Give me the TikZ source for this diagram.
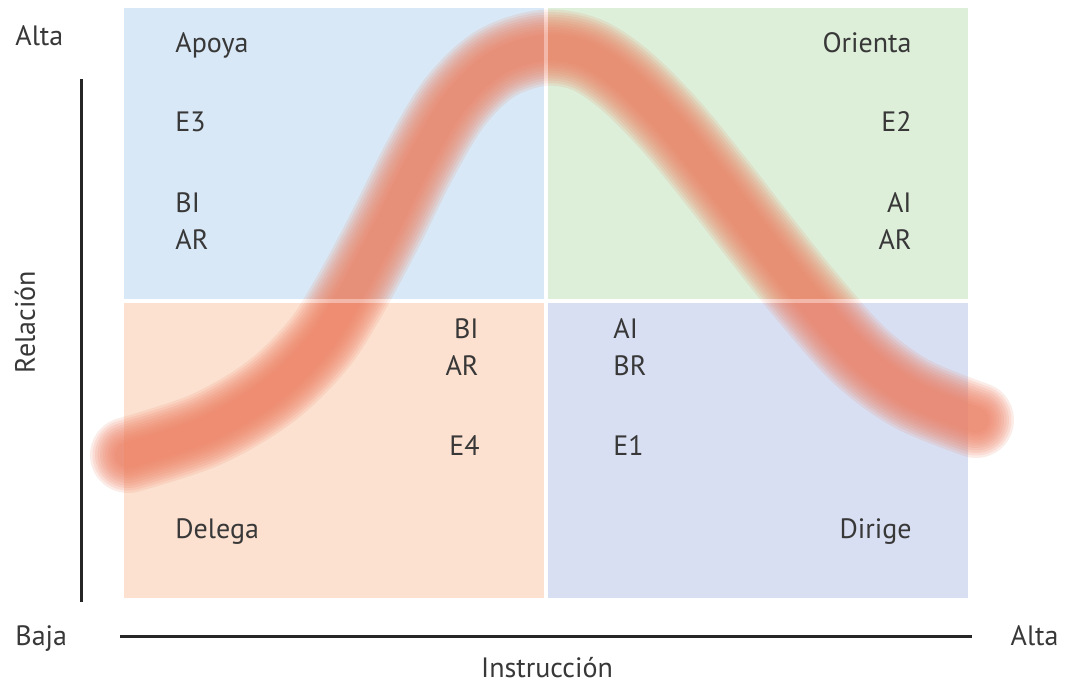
\documentclass[tikz,border=0pt]{standalone}
\usepackage{fontspec}
\setmainfont{PT Sans}
\begin{document}
\begin{tikzpicture}[x=0.5pt,y=-0.5pt,
  txt/.style={font=\fontsize{14pt}{16pt}\selectfont, text=black!78, inner sep=0pt},
  axisline/.style={line width=1.5pt, black!85},
  quad/.style={draw=none}]
\definecolor{qblue}{RGB}{217,232,246}
\definecolor{qgreen}{RGB}{221,238,217}
\definecolor{qpeach}{RGB}{252,224,208}
\definecolor{qlav}{RGB}{217,223,242}
\definecolor{curvecol}{RGB}{238,126,96}
\useasboundingbox (0,0) rectangle (1067,685);
\fill[white] (0,0) rectangle (1067,685);
% quadrants
\fill[qblue]  (124,8)   rectangle (544,299);
\fill[qgreen] (548,8)   rectangle (968,299);
\fill[qpeach] (124,303) rectangle (544,598);
\fill[qlav]   (548,303) rectangle (968,598);
% blurred curve
\foreach \w in {76,71,66,61,56,51,46,41,36,31,26}{
  \draw[curvecol, opacity=0.14, line width=\w*0.5pt, line cap=round, line join=round]
    plot[smooth, tension=0.55] coordinates {(128,455) (205,430) (270,392) (318,345) (350,295) (385,230) (420,160) (455,102) (495,64) (542,48) (585,54) (625,80) (670,125) (715,180) (760,238) (808,298) (860,356) (912,394) (976,420)};
}
% faint white separators over the curve
\fill[white, opacity=0.35] (544,8) rectangle (548,598);
\fill[white, opacity=0.35] (124,299) rectangle (968,303);
% axes
\coordinate (vtop) at (81,79);
\coordinate (vbot) at (81,602);
\coordinate (hleft) at (120,636);
\coordinate (hright) at (972,636);
\draw[axisline] (vtop) -- (vbot);
\draw[axisline] (hleft) -- (hright);
% axis labels
\node[txt, anchor=mid west] (altaY) at (15,41) {Alta};
\node[txt, anchor=mid west] (baja) at (15,640) {Baja};
\node[txt, anchor=mid east] (altaX) at (1059,640) {Alta};
\node[txt, rotate=90] (relacion) at (25,322) {Relación};
\node[txt] (instr) at (547,668) {Instrucción};
% top-left
\node[txt, anchor=mid west] (apoya) at (175,48) {Apoya};
\node[txt, anchor=mid west] (e3) at (175,126) {E3};
\node[txt, anchor=mid west] (bi1) at (175,207) {BI};
\node[txt, anchor=mid west] (ar1) at (175,244) {AR};
% top-right
\node[txt, anchor=mid east] (orienta) at (912,48) {Orienta};
\node[txt, anchor=mid east] (e2) at (912,126) {E2};
\node[txt, anchor=mid east] (ai1) at (912,207) {AI};
\node[txt, anchor=mid east] (ar2) at (912,244) {AR};
% bottom-left
\node[txt, anchor=mid east] (bi2) at (479,333) {BI};
\node[txt, anchor=mid east] (ar3) at (479,370) {AR};
\node[txt, anchor=mid east] (e4) at (480,450) {E4};
\node[txt, anchor=mid west] (delega) at (175,533) {Delega};
% bottom-right
\node[txt, anchor=mid west] (ai2) at (613,333) {AI};
\node[txt, anchor=mid west] (br) at (613,370) {BR};
\node[txt, anchor=mid west] (e1) at (613,450) {E1};
\node[txt, anchor=mid east] (dirige) at (912,533) {Dirige};
\end{tikzpicture}
\end{document}
